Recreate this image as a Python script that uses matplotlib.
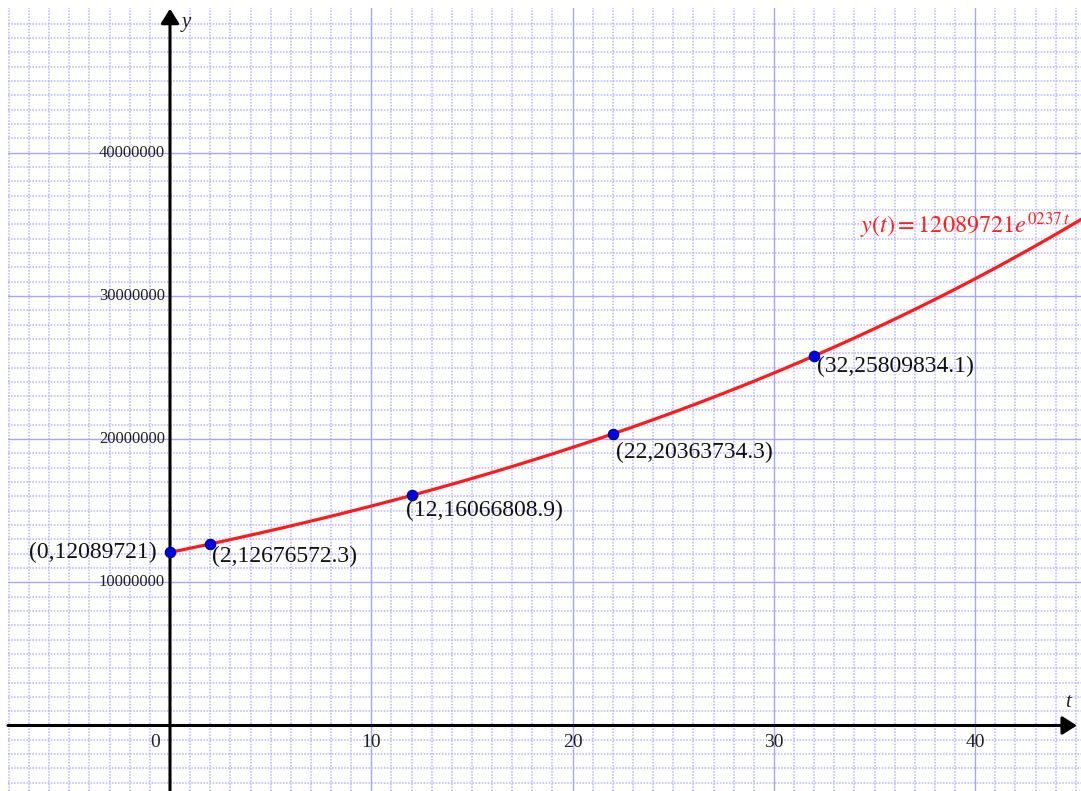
import numpy as np
import matplotlib
matplotlib.use("Agg")
import matplotlib.pyplot as plt

# ---- data ----
point_t = [0, 2, 12, 22, 32]
point_y = [12089721, 12676572.3, 16066808.9, 20363734.3, 25809834.1]
point_labels = ["(0,12089721)", "(2,12676572.3)", "(12,16066808.9)",
                "(22,20363734.3)", "(32,25809834.1)"]
model_a = 12089721
model_k = 0.0237
xtick_vals = [0, 10, 20, 30, 40]
ytick_vals = [10000000, 20000000, 30000000, 40000000]
formula_text = r"$y\left(t\right)=\mathrm{12089721}e^{\mathrm{0237}\,t}$"

W, H = 1081, 791
fig = plt.figure(figsize=(W / 100, H / 100), dpi=100)
ax = fig.add_axes([8 / W, 0, (W - 8) / W, (H - 8) / H])

px_per_x = 20.13
px_per_M = 14.32
x0_px, y0_px = 170, 725.5
xmin = (8 - x0_px) / px_per_x
xmax = (W - x0_px) / px_per_x
ymax = (y0_px - 8) / px_per_M * 1e6
ymin = (y0_px - H) / px_per_M * 1e6
ax.set_xlim(xmin, xmax)
ax.set_ylim(ymin, ymax)
for s in ax.spines.values():
    s.set_visible(False)
ax.set_xticks([])
ax.set_yticks([])

# grid
maj_c = "#a6a6ff"
min_c = "#b4b4ff"
for gx in range(int(np.ceil(xmin)), int(np.floor(xmax)) + 1):
    if gx % 10 == 0:
        if gx != 0:
            ax.axvline(gx, color=maj_c, lw=1.0, zorder=1)
    else:
        ax.axvline(gx, color=min_c, lw=1.1, ls=(0, (1, 1)), zorder=1)
for gy in range(int(np.ceil(ymin / 1e6)), int(np.floor(ymax / 1e6 - 0.5)) + 1):
    if gy % 10 == 0:
        if gy != 0:
            ax.axhline(gy * 1e6, color=maj_c, lw=1.0, zorder=1)
    else:
        ax.axhline(gy * 1e6, color=min_c, lw=1.1, ls=(0, (1, 1)), zorder=1)

# axes with arrows
arrow_style = "-|>,head_length=0.35,head_width=0.22"
ax.annotate("", xy=(xmax - 0.2, 0), xytext=(xmin, 0),
            arrowprops=dict(arrowstyle=arrow_style, lw=2.2, color="black",
                            mutation_scale=25, shrinkA=0, shrinkB=0), zorder=3)
ax.annotate("", xy=(0, ymax - 0.05e6), xytext=(0, ymin),
            arrowprops=dict(arrowstyle=arrow_style, lw=2.2, color="black",
                            mutation_scale=25, shrinkA=0, shrinkB=0), zorder=3)

serif = ["Liberation Serif", "DejaVu Serif"]
ax.text(0.8, 49.1e6, "y", family=serif, style="italic", fontsize=15,
        color="#222222", ha="center", va="center")
ax.text(44.6, 1.6e6, "t", family=serif, style="italic", fontsize=15,
        color="#222222", ha="center", va="center")

# tick labels
for v in xtick_vals:
    xx = -0.75 if v == 0 else v
    ax.text(xx, -1.2e6, str(v), family=serif, fontsize=14, color="#222222",
            ha="center", va="center")
for v in ytick_vals:
    ax.text(-0.25, v, str(v), family=serif, fontsize=12, color="#222222",
            ha="right", va="center")

# curve
tt = np.linspace(0, xmax, 400)
ax.plot(tt, model_a * np.exp(model_k * tt), color="#ff1a1a", lw=2.3, zorder=4)
ax.plot(point_t, point_y, "o", color="#0000ee", mec="#000080", ms=7.5,
        mew=0.8, zorder=5)

# point labels
offsets = [(-13, 0, "right"), (2, -12, "left"), (-6, -15, "left"),
           (3, -19, "left"), (3, -11, "left")]
for t, y, lab, (dx, dy, ha) in zip(point_t, point_y, point_labels, offsets):
    ax.annotate(lab, xy=(t, y), xytext=(dx, dy), textcoords="offset pixels",
                family=serif, fontsize=17, color="#111111", ha=ha, va="center",
                zorder=6)

plt.rcParams["mathtext.fontset"] = "stix"
ax.text(34.3, 34.9e6, formula_text, color="#ff2020", fontsize=17.5,
        ha="left", va="center", zorder=6)

fig.savefig("out.png", dpi=100)
